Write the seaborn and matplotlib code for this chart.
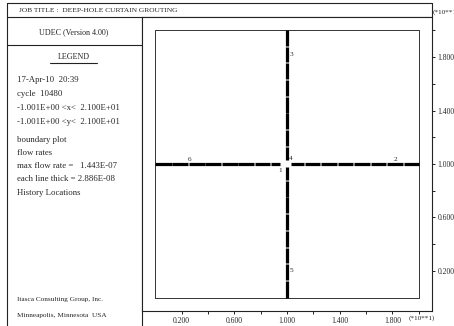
import numpy as np
import pandas as pd
import matplotlib
matplotlib.use("Agg")
import matplotlib.pyplot as plt
import seaborn as sns

# ---------------- data ----------------
# horizontal flow-pipe segments along y = 1.0 (units of 10 m)
h_level = 1.0
h_x0 = [0.000, 0.130, 0.256, 0.381, 0.506, 0.631, 0.756, 0.880,
        1.030, 1.135, 1.260, 1.385, 1.510, 1.635, 1.760, 1.885]
h_x1 = [0.124, 0.250, 0.375, 0.500, 0.625, 0.750, 0.874, 0.950,
        1.128, 1.254, 1.379, 1.504, 1.629, 1.754, 1.879, 2.000]
# vertical flow-pipe segments along x = 1.0
v_level = 1.0
v_y0 = [0.000, 0.130, 0.256, 0.381, 0.506, 0.631, 0.756, 0.880,
        1.030, 1.135, 1.260, 1.385, 1.510, 1.635, 1.760, 1.885]
v_y1 = [0.124, 0.250, 0.375, 0.500, 0.625, 0.750, 0.874, 0.975,
        1.128, 1.254, 1.379, 1.504, 1.629, 1.754, 1.879, 2.000]
# model boundary
bound_x = [0.0, 2.0, 2.0, 0.0, 0.0]
bound_y = [0.0, 0.0, 2.0, 2.0, 0.0]
# history location labels
hist_ids = ["1", "2", "3", "4", "5", "6"]
hist_x = [0.95, 1.82, 1.03, 1.03, 1.03, 0.26]
hist_y = [0.955, 1.03, 1.82, 1.04, 0.20, 1.035]
# axis ticks
major_ticks = [0.2, 0.6, 1.0, 1.4, 1.8]
major_labels = ["0.200", "0.600", "1.000", "1.400", "1.800"]
minor_ticks = [0.4, 0.8, 1.2, 1.6, 2.0]
xlim = (-0.1001, 2.1)
ylim = (-0.1001, 2.1)

legend_lines = ["17-Apr-10  20:39", "cycle  10480",
                "-1.001E+00 <x<  2.100E+01", "-1.001E+00 <y<  2.100E+01"]
legend_lines2 = ["boundary plot", "flow rates",
                 "max flow rate =   1.443E-07",
                 "each line thick = 2.886E-08", "History Locations"]

# ---------------- style ----------------
sns.set_theme(style="white")
plt.rcParams["font.family"] = ["Liberation Serif", "DejaVu Serif"]

W, H = 454, 326
fig = plt.figure(figsize=(W / 100, H / 100), dpi=100)
fig.patch.set_facecolor("white")

# overlay in pixel coordinates for frame and text panel
ov = fig.add_axes([0, 0, 1, 1])
ov.set_xlim(0, W)
ov.set_ylim(H, 0)
ov.axis("off")
lc = "#222222"
lw = 0.8
ov.plot([7, 432], [3, 3], color=lc, lw=lw)
ov.plot([7, 7], [3, H], color=lc, lw=lw)
ov.plot([7, 432], [17, 17], color=lc, lw=lw)
ov.plot([432, 432], [3, 17], color=lc, lw=lw)
ov.plot([142, 142], [17, H], color=lc, lw=lw)
ov.plot([7, 142], [45, 45], color=lc, lw=lw)
ov.plot([50, 97], [63, 63], color=lc, lw=lw)

fs = 6.3
ov.text(19, 10.5, "JOB TITLE :  DEEP-HOLE CURTAIN GROUTING", fontsize=5.4,
        va="center", ha="left")
ov.text(433, 12, "(*10**1)", fontsize=5.2, va="center", ha="left")
ov.text(74, 32, "UDEC (Version 4.00)", fontsize=5.8, va="center", ha="center")
ov.text(74, 57, "LEGEND", fontsize=5.8, va="center", ha="center")
for i, t in enumerate(legend_lines):
    ov.text(17, 80 + 14 * i, t, fontsize=fs, va="center", ha="left")
for i, t in enumerate(legend_lines2):
    ov.text(17, 139.5 + 13.3 * i, t, fontsize=fs, va="center", ha="left")
ov.text(17, 299, "Itasca Consulting Group, Inc.", fontsize=5.2, va="center", ha="left")
ov.text(17, 316, "Minneapolis, Minnesota  USA", fontsize=5.2, va="center", ha="left")
ov.text(409, 318, "(*10**1)", fontsize=5.2, va="center", ha="left")

# main plot axes
ax = fig.add_axes([142 / W, (H - 311) / H, 290 / W, (311 - 17) / H])
ax.set_facecolor("white")

rows = []
for i, (a, b) in enumerate(zip(h_x0, h_x1)):
    rows.append(("h%d" % i, a, h_level))
    rows.append(("h%d" % i, b, h_level))
for i, (a, b) in enumerate(zip(v_y0, v_y1)):
    rows.append(("v%d" % i, v_level, a))
    rows.append(("v%d" % i, v_level, b))
df = pd.DataFrame(rows, columns=["seg", "x", "y"])

ax.plot(bound_x, bound_y, color="#333333", lw=0.7)
sns.lineplot(data=df, x="x", y="y", units="seg", estimator=None, sort=False,
             color="black", lw=2.3, solid_capstyle="butt", ax=ax, legend=False)
for lab, x, y in zip(hist_ids, hist_x, hist_y):
    ax.text(x, y, lab, fontsize=5.2, ha="center", va="center")

ax.set_xlim(*xlim)
ax.set_ylim(*ylim)
ax.set_xlabel("")
ax.set_ylabel("")
for s in ax.spines.values():
    s.set_color(lc)
    s.set_linewidth(lw)
    s.set_visible(True)

ax.set_xticks(major_ticks)
ax.set_xticklabels(major_labels)
ax.set_xticks(minor_ticks, minor=True)
ax.set_yticks(major_ticks)
ax.set_yticklabels(major_labels)
ax.set_yticks(minor_ticks, minor=True)
ax.xaxis.set_ticks_position("bottom")
ax.yaxis.set_ticks_position("right")
ax.tick_params(axis="both", which="both", direction="out", length=2.5,
               width=0.7, color=lc, labelsize=5.5, pad=1.5)
ax.tick_params(axis="x", which="both", bottom=True, top=False)
ax.tick_params(axis="y", which="both", right=True, left=False,
               labelright=True, labelleft=False)

fig.savefig("out.png", dpi=100)
